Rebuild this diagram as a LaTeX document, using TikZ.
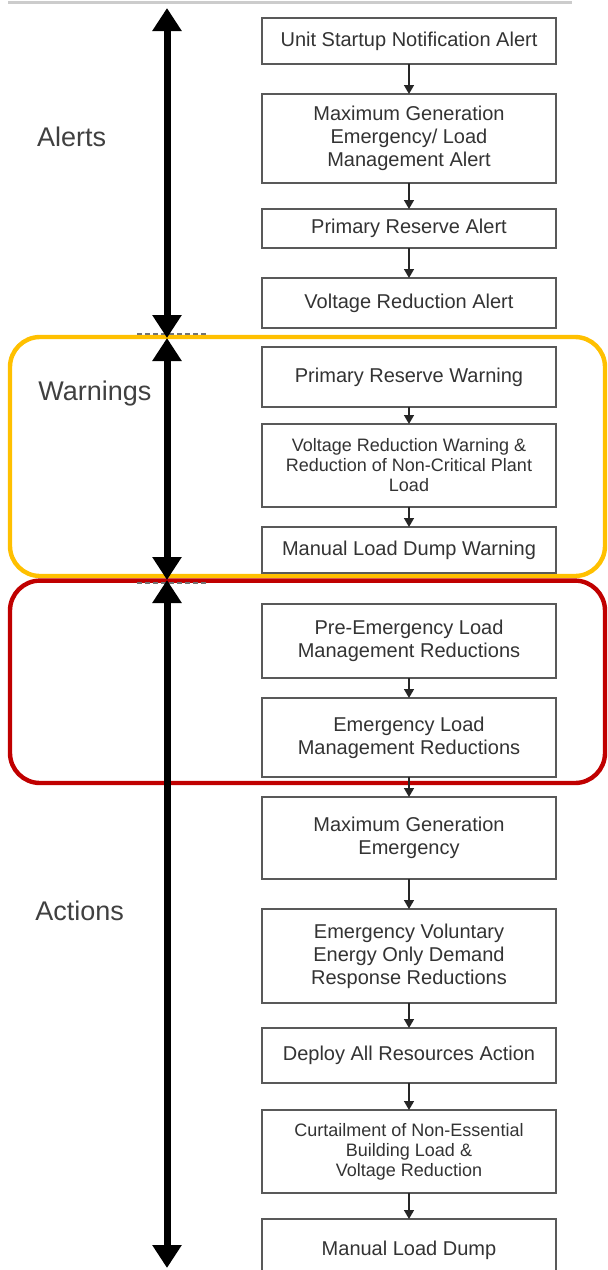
\documentclass[tikz,border=0pt]{standalone}
\usepackage{fontspec}
\setmainfont{Liberation Sans}
\usepackage{tikz}
\usetikzlibrary{positioning}
\usetikzlibrary{arrows.meta}
\pgfdeclarelayer{phasebg}
\pgfsetlayers{phasebg,main}
\definecolor{warnyellow}{HTML}{FFC000}
\definecolor{actred}{HTML}{C00000}

\begin{document}
\begin{tikzpicture}[
	stepbox/.style={draw=black!65, line width=0.9pt, fill=white, align=center, minimum width=147pt, inner sep=2pt, outer sep=0pt, text=black!80, font=\fontsize{10pt}{11.5pt}\selectfont},
	smalltext/.style={font=\fontsize{9pt}{10pt}\selectfont},
	flow/.style={line width=0.7pt, black!85, -{Triangle[width=5pt,length=4.5pt]}},
	phase/.style={line width=3.5pt, {Triangle[width=14pt,length=11.5pt]}-{Triangle[width=14pt,length=11.5pt]}},
	phaselabel/.style={anchor=base west, inner sep=0pt, text=black!75, font=\fontsize{13.5pt}{16pt}\selectfont},
	frame/.style={line width=2.2pt, rounded corners=15pt}]
	
	\useasboundingbox (0,0) rectangle (304pt,-635pt);
	
	\node [stepbox, minimum height=23pt] at (204.5pt,-20.5pt) (1unit) {Unit Startup Notification Alert};
	\node [stepbox, minimum height=44.5pt, below=15pt of 1unit] (2maxgen) {Maximum Generation\\Emergency/ Load\\Management Alert};
	\node [stepbox, minimum height=19.5pt, below=13pt of 2maxgen] (3primres) {Primary Reserve Alert};
	\node [stepbox, minimum height=25pt, below=15pt of 3primres] (4voltred) {Voltage Reduction Alert};
	
	\node [stepbox, minimum height=30pt, below=9.5pt of 4voltred] (5primwarn) {Primary Reserve Warning};
	\node [stepbox, smalltext, minimum height=41.5pt, below=8.5pt of 5primwarn] (6voltwarn) {Voltage Reduction Warning \&\\Reduction of Non-Critical Plant\\Load};
	\node [stepbox, minimum height=23pt, below=10pt of 6voltwarn] (7dumpwarn) {Manual Load Dump Warning};
	
	\node [stepbox, minimum height=37pt, below=15.5pt of 7dumpwarn] (8preemerg) {Pre-Emergency Load\\Management Reductions};
	\node [stepbox, minimum height=39.5pt, below=10pt of 8preemerg] (9emerg) {Emergency Load\\Management Reductions};
	\node [stepbox, minimum height=41pt, below=10pt of 9emerg] (10maxemerg) {Maximum Generation\\Emergency};
	\node [stepbox, minimum height=47pt, below=15pt of 10maxemerg] (11voluntary) {Emergency Voluntary\\Energy Only Demand\\Response Reductions};
	\node [stepbox, minimum height=27.5pt, below=12.5pt of 11voluntary] (12deploy) {Deploy All Resources Action};
	\node [stepbox, smalltext, minimum height=41.5pt, below=13.5pt of 12deploy] (13curtail) {Curtailment of Non-Essential\\Building Load \&\\Voltage Reduction};
	\node [stepbox, minimum height=31pt, below=13pt of 13curtail] (14dump) {Manual Load Dump};
	
	\draw [flow] (1unit) -- (2maxgen); \draw [flow] (2maxgen) -- (3primres); \draw [flow] (3primres) -- (4voltred);
	\draw [flow] (5primwarn) -- (6voltwarn); \draw [flow] (6voltwarn) -- (7dumpwarn);
	\draw [flow] (8preemerg) -- (9emerg); \draw [flow] (9emerg) -- (10maxemerg); \draw [flow] (10maxemerg) -- (11voluntary);
	\draw [flow] (11voluntary) -- (12deploy); \draw [flow] (12deploy) -- (13curtail); \draw [flow] (13curtail) -- (14dump);
	
	\node [phaselabel] at (18.4pt,-73.3pt) (alerts) {Alerts};
	\node [phaselabel] at (19pt,-200pt) (warnings) {Warnings};
	\node [phaselabel] at (17.5pt,-460pt) (actions) {Actions};
	
	\coordinate (alerttop) at (83.5pt,-4pt); \coordinate (alertend) at (83.5pt,-169pt);
	\coordinate (warnend) at (83.5pt,-290pt); \coordinate (actend) at (83.5pt,-634pt);
	\draw [phase] (alerttop) -- (alertend); \draw [phase] (alertend) -- (warnend); \draw [phase] (warnend) -- (actend);
	
	\begin{pgfonlayer}{phasebg}
	\draw [black!20, line width=1.5pt] (4pt,-1pt) -- (286pt,-1pt);
	\draw [frame, warnyellow] (5pt,-168.5pt) rectangle (302.5pt,-288pt);
	\draw [frame, actred] (5pt,-290.3pt) rectangle (302.5pt,-391.5pt);
	\draw [black!55, line width=1pt, dash pattern=on 2.5pt off 1.5pt] (68.5pt,-167pt) -- (103.5pt,-167pt);
	\draw [black!55, line width=1pt, dash pattern=on 2.5pt off 1.5pt] (68.5pt,-291.5pt) -- (103.5pt,-291.5pt);
	\end{pgfonlayer}
	
\end{tikzpicture}
\end{document}
